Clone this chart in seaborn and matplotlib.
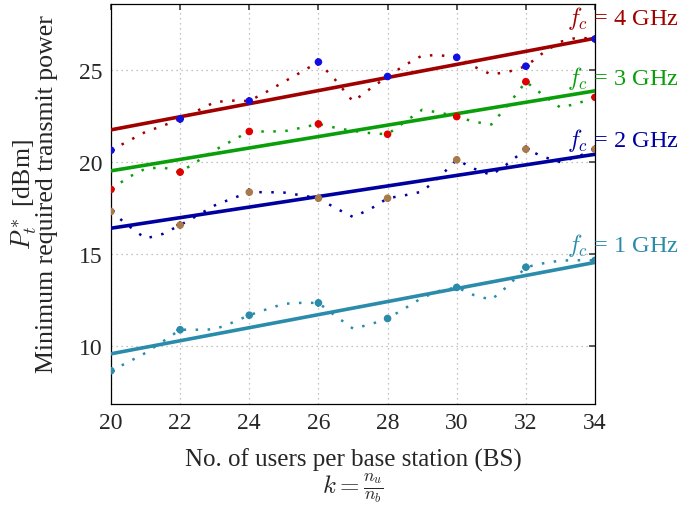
import numpy as np
import pandas as pd
import matplotlib
matplotlib.use("Agg")
import matplotlib.pyplot as plt
import seaborn as sns

sns.set_theme(style="white")
plt.rcParams.update({
    "font.family": "serif",
    "font.serif": ["Liberation Serif", "DejaVu Serif"],
    "mathtext.fontset": "cm",
    "font.size": 18,
    "axes.labelsize": 18,
    "xtick.labelsize": 17,
    "ytick.labelsize": 17,
})

# users per BS where the simulation was evaluated
k_points = [20, 22, 24, 26, 28, 30, 32, 34]

# simulated minimum transmit power [dBm]
p_4ghz = [20.65, 22.35, 23.33, 25.45, 24.66, 25.70, 25.22, 26.70]
p_3ghz = [18.52, 19.46, 21.67, 22.08, 21.52, 22.48, 24.38, 23.53]
p_2ghz = [17.32, 16.58, 18.37, 18.04, 18.04, 20.13, 20.71, 20.71]
p_1ghz = [8.66, 10.89, 11.68, 12.35, 11.50, 13.19, 14.29, 14.66]

# smooth (dotted) curves
k_curve = [20, 20.5, 21, 21.5, 22, 22.5, 23, 23.5, 24, 24.5, 25, 25.5, 26, 26.5, 27,
           27.5, 28, 28.5, 29, 29.5, 30, 30.5, 31, 31.5, 32, 32.5, 33, 33.5, 34]
c_4ghz = [20.65, 21.15, 21.65, 21.98, 22.35, 22.80, 23.27, 23.35, 23.33, 23.83, 24.37,
          24.90, 25.45, 24.45, 23.30, 24.00, 24.66, 25.28, 25.80, 25.82, 25.70, 25.20,
          24.77, 24.92, 25.22, 25.95, 26.55, 26.78, 26.70]
c_3ghz = [18.52, 19.18, 19.65, 19.72, 19.46, 20.05, 20.65, 21.17, 21.67, 21.67, 21.68,
          21.87, 22.08, 21.87, 21.70, 21.58, 21.52, 22.20, 22.85, 22.70, 22.48, 22.20,
          22.05, 23.15, 24.38, 23.65, 22.97, 23.20, 23.53]
c_2ghz = [17.32, 16.55, 15.85, 16.10, 16.58, 17.10, 17.65, 18.02, 18.37, 18.37, 18.35,
          18.20, 18.04, 17.50, 17.02, 17.45, 18.04, 18.20, 18.40, 19.20, 20.13, 19.65,
          19.30, 19.95, 20.71, 20.30, 20.00, 20.30, 20.71]
c_1ghz = [8.66, 9.13, 9.63, 10.25, 10.89, 10.89, 10.91, 11.27, 11.68, 12.00, 12.30,
          12.35, 12.35, 11.63, 10.95, 11.18, 11.50, 12.05, 12.63, 13.00, 13.19, 12.77,
          12.52, 13.30, 14.29, 14.50, 14.65, 14.67, 14.66]

# linear trend end points (k = 20 and k = 34)
k_trend = [20, 34]
t_4ghz = [21.76, 26.74]
t_3ghz = [19.53, 23.88]
t_2ghz = [16.41, 20.43]
t_1ghz = [9.58, 14.55]

freqs = ["4", "3", "2", "1"]
line_colors = {"4": "#a00000", "3": "#0a9f0a", "2": "#0000a0", "1": "#2a8bab"}
dot_colors = {"4": "#1010e0", "3": "#e00000", "2": "#a87a4a", "1": "#2a8bab"}
label_y = {"4": 27.5, "3": 24.24, "2": 20.87, "1": 15.15}

pts = pd.DataFrame({
    "k": k_points * 4,
    "P": p_4ghz + p_3ghz + p_2ghz + p_1ghz,
    "f": sum([[f] * len(k_points) for f in freqs], []),
})
curves = pd.DataFrame({
    "k": k_curve * 4,
    "P": c_4ghz + c_3ghz + c_2ghz + c_1ghz,
    "f": sum([[f] * len(k_curve) for f in freqs], []),
})
trend = pd.DataFrame({
    "k": k_trend * 4,
    "P": t_4ghz + t_3ghz + t_2ghz + t_1ghz,
    "f": sum([[f] * len(k_trend) for f in freqs], []),
})

fig, ax = plt.subplots(figsize=(6.78, 5.06), dpi=100)
fig.subplots_adjust(left=0.1637, right=0.8776, top=0.990, bottom=0.1996)

# dotted smooth curves
sns.lineplot(data=curves, x="k", y="P", hue="f", palette=line_colors, ax=ax,
             legend=False, linewidth=1.8, zorder=3)
for ln in ax.lines:
    ln.set_linestyle((0, (1, 3.8)))
    ln.set_dash_capstyle("butt")
# linear trends
sns.lineplot(data=trend, x="k", y="P", hue="f", palette=line_colors, ax=ax,
             legend=False, linewidth=2.6, zorder=4)
# simulation points
sns.scatterplot(data=pts, x="k", y="P", hue="f", palette=line_colors, ax=ax,
                legend=False, marker="+", s=28, linewidth=1.1, zorder=5)
sns.scatterplot(data=pts, x="k", y="P", hue="f", palette=dot_colors, ax=ax,
                legend=False, s=30, linewidth=0, zorder=6)

for f in freqs:
    ax.text(33.2, label_y[f], r"$f_c$ = " + f + " GHz", color=line_colors[f],
            ha="left", va="baseline", fontsize=17.5, clip_on=False, zorder=7)

ax.set_xlim(20, 34)
ax.set_ylim(6.85, 28.6)
ax.set_xticks(range(20, 35, 2))
ax.set_yticks([10, 15, 20, 25])
ax.grid(True, color="#b0b0b0", linestyle=(0, (1, 3)), linewidth=0.9)
ax.tick_params(direction="in", top=True, right=True, length=4, pad=6,
               color="#444444")
for sp in ax.spines.values():
    sp.set_color("black")
    sp.set_linewidth(0.9)

ax.set_xlabel("No. of users per base station (BS)\n" + r"$k = \frac{n_u}{n_b}$",
              labelpad=10, linespacing=1.0)
ax.set_ylabel(r"$P_t^*$ [dBm]" + "\nMinimum required transmit power",
              fontsize=18.6, linespacing=0.82)
ax.yaxis.set_label_coords(-0.11, 0.527)

fig.savefig("out.png", dpi=100)
